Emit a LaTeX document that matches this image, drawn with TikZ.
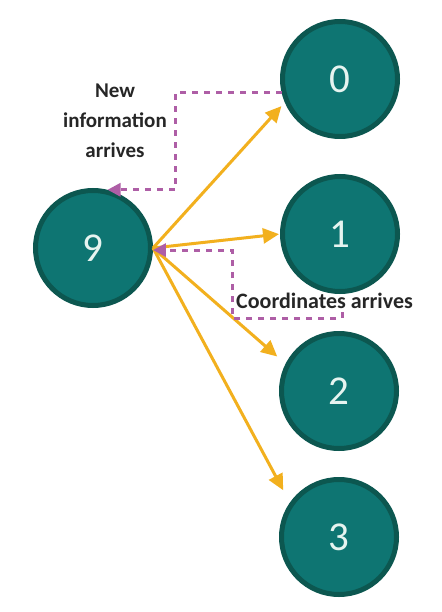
\documentclass[tikz,border=0pt]{standalone}
\usepackage{fontspec}
\setmainfont{Carlito}
\usetikzlibrary{arrows.meta}
\definecolor{tealfill}{HTML}{0E7572}
\definecolor{tealedge}{HTML}{0C5750}
\definecolor{digitcol}{HTML}{E6F4F0}
\definecolor{arroworange}{HTML}{F2B01E}
\definecolor{infopurple}{HTML}{AE5EA6}
\definecolor{labelgray}{HTML}{262626}
\tikzset{
  peer/.style={circle, minimum size=115pt, inner sep=0pt, fill=tealfill, draw=tealedge,
    line width=5pt, text=digitcol, font=\fontsize{41}{44}\selectfont},
  sendarrow/.style={draw=arroworange, line width=3pt,
    -{Triangle[length=16pt,width=15pt]}, arroworange},
  infoarrow/.style={draw=infopurple, line width=3pt, dash pattern=on 6pt off 6pt,
    -{Triangle[length=13pt,width=13pt]}, infopurple},
  lbl/.style={text=labelgray, font=\bfseries\fontsize{21}{30}\selectfont, inner sep=0pt}
}
\begin{document}
\begin{tikzpicture}[x=1pt,y=-1pt]
\useasboundingbox[fill=white] (0,0) rectangle (441,612);
\node[peer] (n9) at (93,248) {9};
\node[peer] (n0) at (340,79) {0};
\node[peer] (n1) at (340,234) {1};
\node[peer] (n2) at (339,391) {2};
\node[peer] (n3) at (339,537) {3};
\node[lbl, align=center] (newinfo) at (115,121) {New\\information\\arrives};
\node[lbl, anchor=west, font=\bfseries\fontsize{22}{30}\selectfont] (coordlbl) at (236,301) {Coordinates arrives};
\coordinate (cstart) at (342,312);
\coordinate (cbend) at (232,318);
% orange arrows
\draw[sendarrow, shorten >=5pt] (n9.east) -- (n0.203);
\draw[sendarrow, shorten >=1pt] (n9.east) -- (n1.west);
\draw[sendarrow, shorten >=11pt] (n9.east) -- (n2.153);
\draw[sendarrow, shorten >=14pt] (n9.east) -- (n3.145);
% purple dashed
\draw[infoarrow] (n0.193) -- ++(-106,0) |- (n9.76);
\draw[infoarrow] (cstart) |- (cbend) |- (n9.-2);
\end{tikzpicture}
\end{document}
